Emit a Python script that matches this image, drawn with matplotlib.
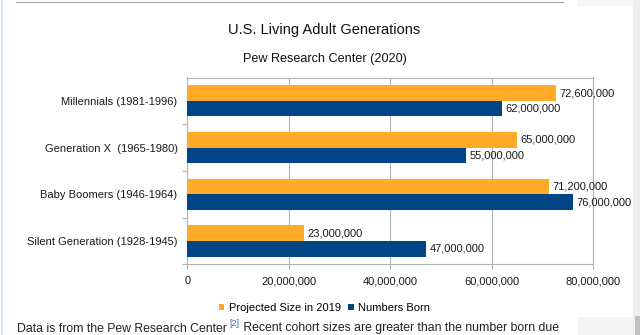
import matplotlib
matplotlib.use("Agg")
import matplotlib.pyplot as plt
from matplotlib.patches import Rectangle
from matplotlib.lines import Line2D
from matplotlib.ticker import FuncFormatter

plt.rcParams['font.family'] = ['Liberation Sans', 'DejaVu Sans']

generations = ["Millennials (1981-1996)", "Generation X  (1965-1980)",
               "Baby Boomers (1946-1964)", "Silent Generation (1928-1945)"]
projected_2019 = [72600000, 65000000, 71200000, 23000000]
numbers_born = [62000000, 55000000, 76000000, 47000000]
x_ticks = [0, 20000000, 40000000, 60000000, 80000000]

ORANGE = "#ffab29"
BLUE = "#004586"
GRID = "#b3b3b3"

W, H = 640, 335
fig = plt.figure(figsize=(W / 100, H / 100), dpi=100)


def fx(px):
    return px / W


def fy(py):
    return 1 - py / H


# page furniture around the chart
page = fig.transFigure
fig.add_artist(Line2D([fx(16), fx(563)], [fy(1.5), fy(1.5)], color="#a2a9b1", lw=0.8, transform=page))
fig.add_artist(Line2D([fx(2), fx(2)], [0, 1], color="#cfe2f3", lw=1.2, transform=page))
fig.add_artist(Rectangle((fx(577), fy(6)), fx(633) - fx(577), 6 / H, color="#f6f6f6", lw=0, transform=page))
fig.add_artist(Rectangle((fx(633), 0), fx(640) - fx(633), 1, color="#efefef", lw=0, transform=page))
fig.add_artist(Rectangle((fx(577), 0), fx(633) - fx(577), 18 / H, color="#f4f4f4", lw=0, transform=page))
fig.add_artist(Rectangle((fx(635), 0), fx(640) - fx(635), 19 / H, color="#c1c1c1", lw=0, transform=page))

ax = fig.add_axes([fx(187.3), fy(264.3), fx(593.3) - fx(187.3), (264.3 - 77.5) / H])

pos = list(range(len(generations)))
h = 0.334
b1 = ax.barh([p - h / 2 for p in pos], projected_2019, height=h, color=ORANGE, lw=0,
             label="Projected Size in 2019", zorder=3)
b2 = ax.barh([p + h / 2 for p in pos], numbers_born, height=h, color=BLUE, lw=0,
             label="Numbers Born", zorder=3)
ax.bar_label(b1, labels=[f"{v:,}" for v in projected_2019], padding=2.5, fontsize=8, color="#1a1a1a")
ax.bar_label(b2, labels=[f"{v:,}" for v in numbers_born], padding=2.5, fontsize=8, color="#1a1a1a")

ax.set_xlim(0, 80000000)
ax.set_ylim(3.5, -0.5)
ax.set_xticks(x_ticks)
ax.xaxis.set_major_formatter(FuncFormatter(lambda v, _: f"{int(v):,}"))
ax.set_yticks(pos)
ax.set_yticklabels(generations)
ax.set_yticks([0.5, 1.5, 2.5, 3.5], minor=True)
ax.grid(axis="x", color=GRID, lw=0.8, zorder=0)
for s in ax.spines.values():
    s.set_color(GRID)
    s.set_linewidth(0.8)
ax.tick_params(axis="x", length=3.5, width=0.8, color=GRID, pad=5, labelsize=8, labelcolor="#1a1a1a")
ax.tick_params(axis="y", which="major", length=0, pad=7, labelsize=8, labelcolor="#1a1a1a")
ax.tick_params(axis="y", which="minor", length=3.5, width=0.8, color=GRID)

fig.text(fx(324.5), fy(30), "U.S. Living Adult Generations", ha="center", va="center",
         fontsize=10.5, color="#111111")
fig.text(fx(325), fy(59), "Pew Research Center (2020)", ha="center", va="center",
         fontsize=9.1, color="#111111")

fig.legend(handles=[b1, b2], loc="center", bbox_to_anchor=(fx(324.5), fy(308)), ncol=2,
           frameon=False, fontsize=8, handlelength=0.5, handleheight=0.5,
           handletextpad=0.4, columnspacing=0.7, borderpad=0)

# wiki caption along the bottom edge
base = fy(331.5)
t1 = fig.text(fx(16.7), base, "Data is from the Pew Research Center", fontsize=8.8,
              color="#202122", va="baseline")
fig.canvas.draw()
r = fig.canvas.get_renderer()
e1 = t1.get_window_extent(r)
t2 = fig.text((e1.x1 + 2.5) / W, base + 6 / H, "[2]", fontsize=6.5, color="#3366cc", va="baseline")
e2 = t2.get_window_extent(r)
fig.text((e2.x1 + 1) / W, base, " Recent cohort sizes are greater than the number born due",
         fontsize=8.8, color="#202122", va="baseline")

fig.savefig("out.png", dpi=100)
